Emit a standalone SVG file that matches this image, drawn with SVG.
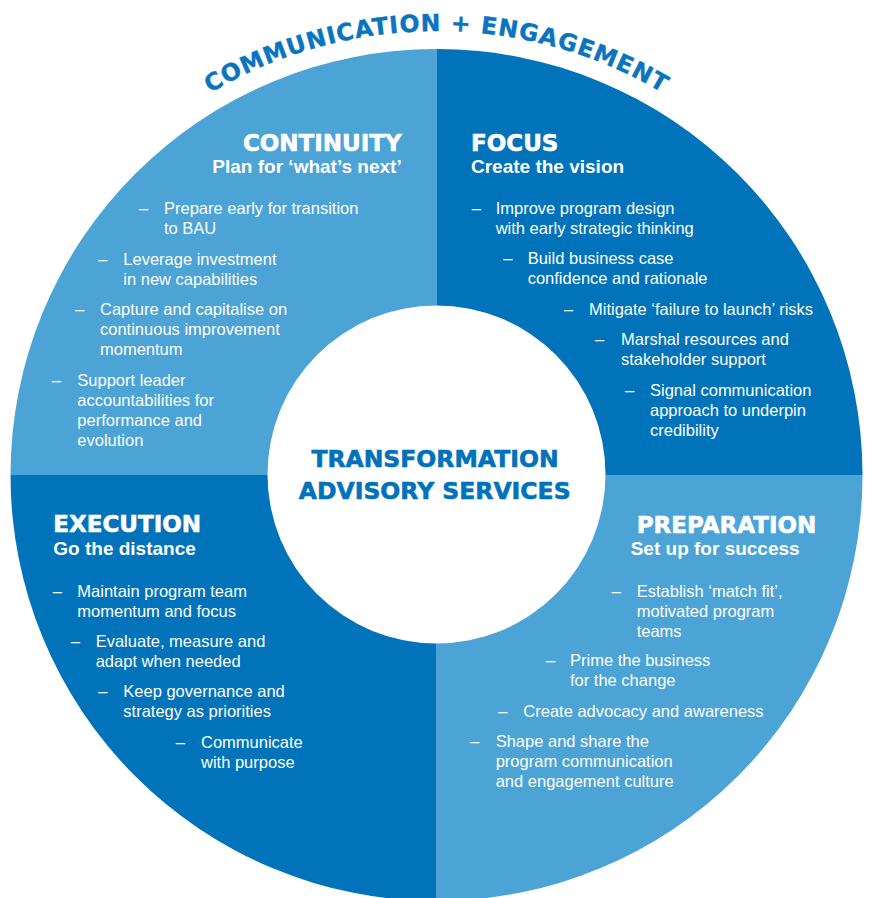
<svg xmlns="http://www.w3.org/2000/svg" width="870" height="898" viewBox="0 0 870 898">
<style>
.light{fill:#4ba3d6}
.dark{fill:#0073bb}
.title{font-family:"DejaVu Sans",sans-serif;font-weight:bold;font-size:23px;fill:#fff;stroke:#fff;stroke-width:0.6px}
.sub{font-family:"Liberation Sans",Arial,sans-serif;font-weight:bold;font-size:19px;fill:#fff}
.body{font-family:"Liberation Sans",Arial,sans-serif;font-size:16.5px;fill:#fff}
.center{font-family:"DejaVu Sans",sans-serif;font-weight:bold;font-size:23.5px;fill:#0071bb;stroke:#0071bb;stroke-width:0.6px;text-anchor:middle}
.arc{font-family:"DejaVu Sans",sans-serif;font-weight:bold;font-size:23.5px;fill:#0a74bf;stroke:#0a74bf;stroke-width:0.4px;letter-spacing:1px}
</style>
<defs>
<path id="arcPath" d="M -7.5,475 A 444,444 0 0 1 880.5,475"/>
</defs>
<rect width="870" height="898" fill="#fff"/>
<g id="arc-label">
<text class="arc"><textPath href="#arcPath" startOffset="50%" text-anchor="middle">COMMUNICATION + ENGAGEMENT</textPath></text>
</g>
<g id="continuity">
<path class="light" d="M436.5,475 L10.5,475 A426,426 0 0 1 436.5,49 Z"/>
<text class="title" x="401.7" y="151" text-anchor="end">CONTINUITY</text>
<text class="sub" x="401.7" y="173.3" text-anchor="end">Plan for ‘what’s next’</text>
<text class="body"><tspan x="139" y="214">–</tspan><tspan x="164" y="214">Prepare early for transition</tspan><tspan x="164" y="234">to BAU</tspan></text>
<text class="body"><tspan x="98.3" y="265">–</tspan><tspan x="123.3" y="265">Leverage investment</tspan><tspan x="123.3" y="285">in new capabilities</tspan></text>
<text class="body"><tspan x="75" y="315">–</tspan><tspan x="100" y="315">Capture and capitalise on</tspan><tspan x="100" y="335">continuous improvement</tspan><tspan x="100" y="355">momentum</tspan></text>
<text class="body"><tspan x="51.7" y="386">–</tspan><tspan x="77.3" y="386">Support leader</tspan><tspan x="77.3" y="406">accountabilities for</tspan><tspan x="77.3" y="426">performance and</tspan><tspan x="77.3" y="446">evolution</tspan></text>
</g>
<g id="focus">
<path class="dark" d="M436.5,475 L436.5,49 A426,426 0 0 1 862.5,475 Z"/>
<text class="title" x="471" y="150.5">FOCUS</text>
<text class="sub" x="471" y="173.3">Create the vision</text>
<text class="body"><tspan x="471.7" y="214">–</tspan><tspan x="495.7" y="214">Improve program design</tspan><tspan x="495.7" y="234">with early strategic thinking</tspan></text>
<text class="body"><tspan x="503.3" y="264">–</tspan><tspan x="527.7" y="264">Build business case</tspan><tspan x="527.7" y="284">confidence and rationale</tspan></text>
<text class="body"><tspan x="564" y="315">–</tspan><tspan x="589" y="315">Mitigate ‘failure to launch’ risks</tspan></text>
<text class="body"><tspan x="595" y="345">–</tspan><tspan x="621" y="345">Marshal resources and</tspan><tspan x="621" y="365">stakeholder support</tspan></text>
<text class="body"><tspan x="625" y="396">–</tspan><tspan x="650" y="396">Signal communication</tspan><tspan x="650" y="416">approach to underpin</tspan><tspan x="650" y="436">credibility</tspan></text>
</g>
<g id="preparation">
<path class="light" d="M436.5,475 L862.5,475 A426,426 0 0 1 436.5,901 Z"/>
<text class="title" x="636.7" y="533.3">PREPARATION</text>
<text class="sub" x="630.7" y="555">Set up for success</text>
<text class="body"><tspan x="611.7" y="596.7">–</tspan><tspan x="636.7" y="596.7">Establish ‘match fit’,</tspan><tspan x="636.7" y="616.7">motivated program</tspan><tspan x="636.7" y="636.7">teams</tspan></text>
<text class="body"><tspan x="546" y="666">–</tspan><tspan x="570" y="666">Prime the business</tspan><tspan x="570" y="686">for the change</tspan></text>
<text class="body"><tspan x="498.3" y="717.3">–</tspan><tspan x="523.3" y="717.3">Create advocacy and awareness</tspan></text>
<text class="body"><tspan x="470" y="747.3">–</tspan><tspan x="495.7" y="747.3">Shape and share the</tspan><tspan x="495.7" y="767.3">program communication</tspan><tspan x="495.7" y="787.3">and engagement culture</tspan></text>
</g>
<g id="execution">
<path class="dark" d="M436.5,475 L436.5,901 A426,426 0 0 1 10.5,475 Z"/>
<text class="title" x="53.3" y="532.3">EXECUTION</text>
<text class="sub" x="53.3" y="555">Go the distance</text>
<text class="body"><tspan x="52.7" y="596.7">–</tspan><tspan x="77.3" y="596.7">Maintain program team</tspan><tspan x="77.3" y="616.7">momentum and focus</tspan></text>
<text class="body"><tspan x="70.7" y="646.7">–</tspan><tspan x="95.7" y="646.7">Evaluate, measure and</tspan><tspan x="95.7" y="666.7">adapt when needed</tspan></text>
<text class="body"><tspan x="98.3" y="697.3">–</tspan><tspan x="123.3" y="697.3">Keep governance and</tspan><tspan x="123.3" y="717.3">strategy as priorities</tspan></text>
<text class="body"><tspan x="175.7" y="747.7">–</tspan><tspan x="201" y="747.7">Communicate</tspan><tspan x="201" y="767.7">with purpose</tspan></text>
</g>
<g id="core">
<circle cx="436.5" cy="474.5" r="169" fill="#fff"/>
<text class="center" x="435" y="467.3">TRANSFORMATION</text>
<text class="center" x="434.7" y="499">ADVISORY SERVICES</text>
</g>
</svg>
